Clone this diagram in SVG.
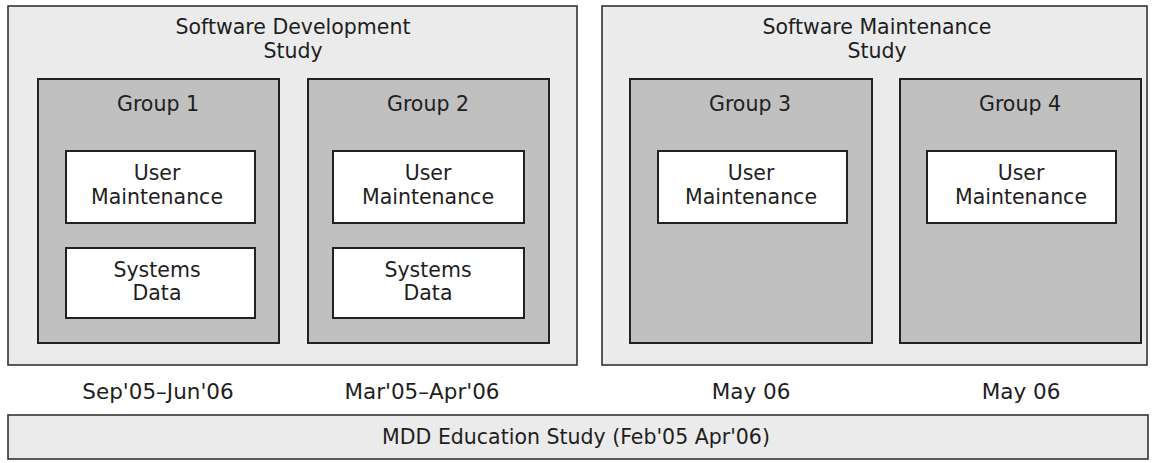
<svg xmlns="http://www.w3.org/2000/svg" width="1155" height="463" viewBox="0 0 1155 463">
<style>
.study{fill:#ebebeb;stroke:#333;stroke-width:1.6}
.group{fill:#c0c0c0;stroke:#222;stroke-width:2}
.item{fill:#fff;stroke:#222;stroke-width:2}
text{font-family:"DejaVu Sans","Liberation Sans",sans-serif;font-size:20.5px;fill:#1e1e1e;text-anchor:middle}
.date{font-size:21.5px}
</style>
<rect width="1155" height="463" fill="#fff"/>
<g id="study-dev">
<rect class="study" x="8" y="6" width="569" height="359"/>
<text x="293" y="34">Software Development</text>
<text x="293" y="58">Study</text>
</g>
<g id="study-maint">
<rect class="study" x="602" y="6" width="545" height="359"/>
<text x="877" y="34">Software Maintenance</text>
<text x="877" y="58">Study</text>
</g>
<g id="group1">
<rect class="group" x="38" y="79" width="241" height="264"/>
<text x="158" y="111">Group 1</text>
</g>
<g id="g1-user">
<rect class="item" x="66" y="151" width="189" height="72"/>
<text x="157" y="180">User</text>
<text x="157" y="204">Maintenance</text>
</g>
<g id="g1-sys">
<rect class="item" x="66" y="248" width="189" height="70"/>
<text x="157" y="277">Systems</text>
<text x="157" y="300">Data</text>
</g>
<g id="group2">
<rect class="group" x="308" y="79" width="241" height="264"/>
<text x="428" y="111">Group 2</text>
</g>
<g id="g2-user">
<rect class="item" x="333" y="151" width="191" height="72"/>
<text x="428" y="180">User</text>
<text x="428" y="204">Maintenance</text>
</g>
<g id="g2-sys">
<rect class="item" x="333" y="248" width="191" height="70"/>
<text x="428" y="277">Systems</text>
<text x="428" y="300">Data</text>
</g>
<g id="group3">
<rect class="group" x="630" y="79" width="242" height="264"/>
<text x="750" y="111">Group 3</text>
</g>
<g id="g3-user">
<rect class="item" x="658" y="151" width="189" height="72"/>
<text x="751" y="180">User</text>
<text x="751" y="204">Maintenance</text>
</g>
<g id="group4">
<rect class="group" x="900" y="79" width="241" height="264"/>
<text x="1020" y="111">Group 4</text>
</g>
<g id="g4-user">
<rect class="item" x="927" y="151" width="189" height="72"/>
<text x="1021" y="180">User</text>
<text x="1021" y="204">Maintenance</text>
</g>
<g id="dates">
<text class="date" x="158" y="399">Sep'05–Jun'06</text>
<text class="date" x="422" y="399">Mar'05–Apr'06</text>
<text class="date" x="751" y="399">May 06</text>
<text class="date" x="1021" y="399">May 06</text>
</g>
<g id="edu-study">
<rect class="study" x="8" y="415" width="1140" height="44"/>
<text x="576" y="444">MDD Education Study (Feb'05 Apr'06)</text>
</g>
<g id="connectors"/>
</svg>
